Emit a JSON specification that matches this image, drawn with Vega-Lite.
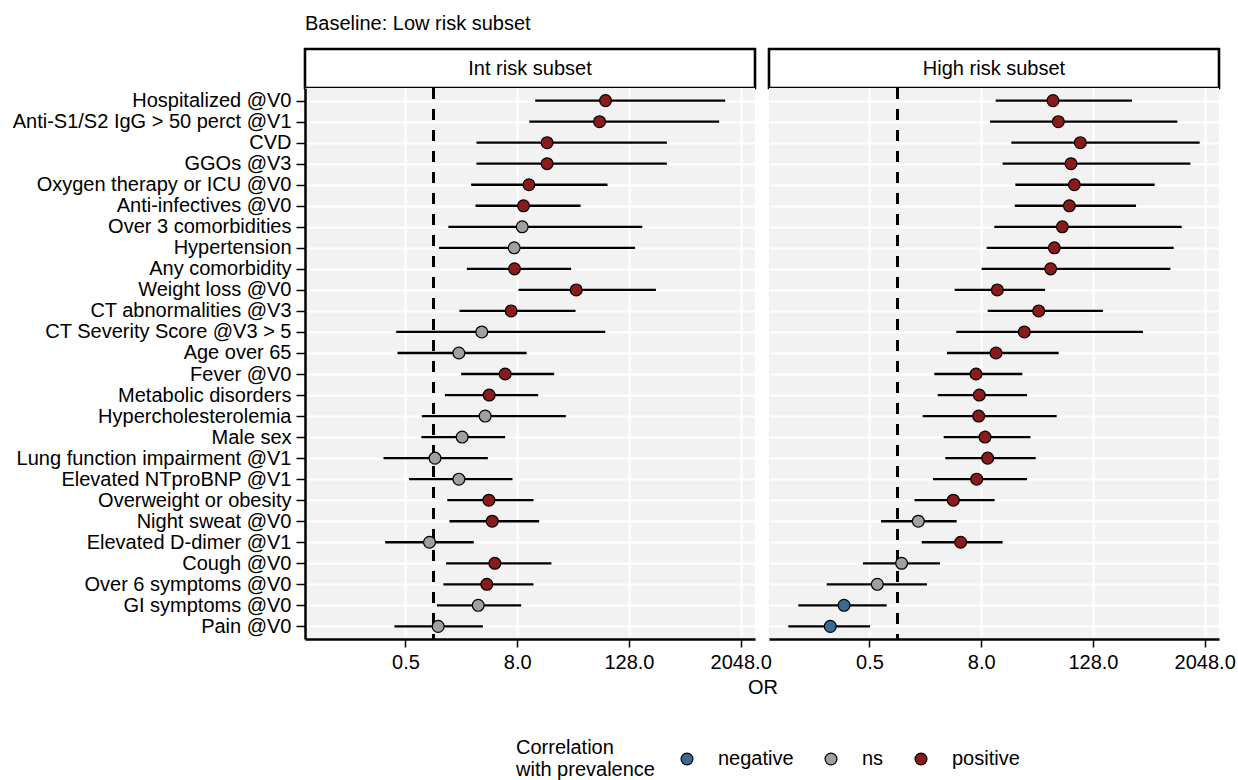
{
  "$schema": "https://vega.github.io/schema/vega-lite/v6.json",
  "background": "white",
  "padding": {"left": 12, "top": 12, "right": 0, "bottom": 0},
  "config": {
    "font": "Liberation Sans",
    "view": {"stroke": null},
    "axis": {
      "labelFont": "Liberation Sans", "labelFontSize": 20, "labelColor": "black",
      "titleFont": "Liberation Sans", "titleFontSize": 20, "titleFontWeight": "normal", "titleColor": "black",
      "gridColor": "white", "gridWidth": 2, "gridOpacity": 1,
      "domainColor": "black", "domainWidth": 2.5, "tickColor": "black", "tickWidth": 1.5
    },
    "legend": {"labelFont": "Liberation Sans", "titleFont": "Liberation Sans"},
    "title": {"font": "Liberation Sans"}
  },
  "datasets": {
    "strips": [
      {"panel": "Int", "label": "Int risk subset"},
      {"panel": "High", "label": "High risk subset"}
    ],
    "forest": [
      {"panel": "Int", "label": "Hospitalized @V0", "or": 71.6, "lo": 12.5, "hi": 1394, "corr": "positive"},
      {"panel": "Int", "label": "Anti-S1/S2 IgG > 50 perct @V1", "or": 61.7, "lo": 10.8, "hi": 1201, "corr": "positive"},
      {"panel": "Int", "label": "CVD", "or": 16.8, "lo": 2.91, "hi": 328, "corr": "positive"},
      {"panel": "Int", "label": "GGOs @V3", "or": 16.8, "lo": 2.91, "hi": 328, "corr": "positive"},
      {"panel": "Int", "label": "Oxygen therapy or ICU @V0", "or": 10.7, "lo": 2.55, "hi": 75.2, "corr": "positive"},
      {"panel": "Int", "label": "Anti-infectives @V0", "or": 9.35, "lo": 2.84, "hi": 38.5, "corr": "positive"},
      {"panel": "Int", "label": "Over 3 comorbidities", "or": 9.05, "lo": 1.45, "hi": 178, "corr": "ns"},
      {"panel": "Int", "label": "Hypertension", "or": 7.42, "lo": 1.15, "hi": 149, "corr": "ns"},
      {"panel": "Int", "label": "Any comorbidity", "or": 7.48, "lo": 2.29, "hi": 30.5, "corr": "positive"},
      {"panel": "Int", "label": "Weight loss @V0", "or": 34.6, "lo": 8.26, "hi": 250, "corr": "positive"},
      {"panel": "Int", "label": "CT abnormalities @V3", "or": 6.88, "lo": 1.91, "hi": 34.0, "corr": "positive"},
      {"panel": "Int", "label": "CT Severity Score @V3 > 5", "or": 3.32, "lo": 0.397, "hi": 71.0, "corr": "ns"},
      {"panel": "Int", "label": "Age over 65", "or": 1.88, "lo": 0.41, "hi": 10.1, "corr": "ns"},
      {"panel": "Int", "label": "Fever @V0", "or": 5.93, "lo": 1.99, "hi": 20.0, "corr": "positive"},
      {"panel": "Int", "label": "Metabolic disorders", "or": 3.99, "lo": 1.33, "hi": 13.45, "corr": "positive"},
      {"panel": "Int", "label": "Hypercholesterolemia", "or": 3.61, "lo": 0.75, "hi": 26.7, "corr": "ns"},
      {"panel": "Int", "label": "Male sex", "or": 2.04, "lo": 0.74, "hi": 5.93, "corr": "ns"},
      {"panel": "Int", "label": "Lung function impairment @V1", "or": 1.04, "lo": 0.29, "hi": 3.86, "corr": "ns"},
      {"panel": "Int", "label": "Elevated NTproBNP @V1", "or": 1.88, "lo": 0.547, "hi": 7.12, "corr": "ns"},
      {"panel": "Int", "label": "Overweight or obesity", "or": 3.96, "lo": 1.41, "hi": 11.98, "corr": "positive"},
      {"panel": "Int", "label": "Night sweat @V0", "or": 4.3, "lo": 1.49, "hi": 13.8, "corr": "positive"},
      {"panel": "Int", "label": "Elevated D-dimer @V1", "or": 0.907, "lo": 0.302, "hi": 2.72, "corr": "ns"},
      {"panel": "Int", "label": "Cough @V0", "or": 4.59, "lo": 1.37, "hi": 18.7, "corr": "positive"},
      {"panel": "Int", "label": "Over 6 symptoms @V0", "or": 3.76, "lo": 1.28, "hi": 11.98, "corr": "positive"},
      {"panel": "Int", "label": "GI symptoms @V0", "or": 3.04, "lo": 1.09, "hi": 8.82, "corr": "ns"},
      {"panel": "Int", "label": "Pain @V0", "or": 1.125, "lo": 0.38, "hi": 3.41, "corr": "ns"},
      {"panel": "High", "label": "Hospitalized @V0", "or": 47.5, "lo": 11.45, "hi": 337, "corr": "positive"},
      {"panel": "High", "label": "Anti-S1/S2 IgG > 50 perct @V1", "or": 54.2, "lo": 9.95, "hi": 1039, "corr": "positive"},
      {"panel": "High", "label": "CVD", "or": 93.6, "lo": 16.9, "hi": 1809, "corr": "positive"},
      {"panel": "High", "label": "GGOs @V3", "or": 74.2, "lo": 13.6, "hi": 1435, "corr": "positive"},
      {"panel": "High", "label": "Oxygen therapy or ICU @V0", "or": 80.7, "lo": 18.65, "hi": 592, "corr": "positive"},
      {"panel": "High", "label": "Anti-infectives @V0", "or": 71.3, "lo": 18.4, "hi": 373, "corr": "positive"},
      {"panel": "High", "label": "Over 3 comorbidities", "or": 59.9, "lo": 11.07, "hi": 1158, "corr": "positive"},
      {"panel": "High", "label": "Hypertension", "or": 49.1, "lo": 9.16, "hi": 949, "corr": "positive"},
      {"panel": "High", "label": "Any comorbidity", "or": 44.8, "lo": 8.09, "hi": 874, "corr": "positive"},
      {"panel": "High", "label": "Weight loss @V0", "or": 11.93, "lo": 4.14, "hi": 39.0, "corr": "positive"},
      {"panel": "High", "label": "CT abnormalities @V3", "or": 33.3, "lo": 9.39, "hi": 164, "corr": "positive"},
      {"panel": "High", "label": "CT Severity Score @V3 > 5", "or": 23.3, "lo": 4.31, "hi": 443, "corr": "positive"},
      {"panel": "High", "label": "Age over 65", "or": 11.55, "lo": 3.42, "hi": 54.7, "corr": "positive"},
      {"panel": "High", "label": "Fever @V0", "or": 7.03, "lo": 2.5, "hi": 22.2, "corr": "positive"},
      {"panel": "High", "label": "Metabolic disorders", "or": 7.63, "lo": 2.72, "hi": 24.9, "corr": "positive"},
      {"panel": "High", "label": "Hypercholesterolemia", "or": 7.51, "lo": 1.87, "hi": 52.0, "corr": "positive"},
      {"panel": "High", "label": "Male sex", "or": 8.79, "lo": 3.15, "hi": 27.1, "corr": "positive"},
      {"panel": "High", "label": "Lung function impairment @V1", "or": 9.39, "lo": 3.28, "hi": 30.9, "corr": "positive"},
      {"panel": "High", "label": "Elevated NTproBNP @V1", "or": 7.15, "lo": 2.42, "hi": 24.9, "corr": "positive"},
      {"panel": "High", "label": "Overweight or obesity", "or": 4.0, "lo": 1.53, "hi": 11.17, "corr": "positive"},
      {"panel": "High", "label": "Night sweat @V0", "or": 1.68, "lo": 0.665, "hi": 4.35, "corr": "ns"},
      {"panel": "High", "label": "Elevated D-dimer @V1", "or": 4.8, "lo": 1.83, "hi": 13.6, "corr": "positive"},
      {"panel": "High", "label": "Cough @V0", "or": 1.11, "lo": 0.425, "hi": 2.88, "corr": "ns"},
      {"panel": "High", "label": "Over 6 symptoms @V0", "or": 0.607, "lo": 0.173, "hi": 2.08, "corr": "ns"},
      {"panel": "High", "label": "GI symptoms @V0", "or": 0.266, "lo": 0.0855, "hi": 0.766, "corr": "negative"},
      {"panel": "High", "label": "Pain @V0", "or": 0.189, "lo": 0.0667, "hi": 0.507, "corr": "negative"}
    ]
  },
  "columns": 2,
  "bounds": "flush",
  "spacing": {"row": 0, "column": 14},
  "resolve": {
    "scale": {"x": "independent", "y": "independent", "fill": "independent"},
    "legend": {"fill": "independent"}
  },
  "concat": [
    {
      "data": {"name": "strips"},
      "transform": [{"filter": "datum.panel == 'Int'"}],
      "width": 450, "height": 39,
      "title": {"text": "Baseline: Low risk subset", "anchor": "start", "frame": "group", "fontSize": 20, "fontWeight": "normal", "color": "black", "baseline": "alphabetic", "offset": -1},
      "view": {"fill": "white", "stroke": "black", "strokeWidth": 2.6},
      "mark": {"type": "text", "fontSize": 20, "color": "black", "font": "Liberation Sans"},
      "encoding": {"text": {"field": "label", "type": "nominal"}}
    },
    {
      "data": {"name": "strips"},
      "transform": [{"filter": "datum.panel == 'High'"}],
      "width": 450, "height": 39,
      "view": {"fill": "white", "stroke": "black", "strokeWidth": 2.6},
      "mark": {"type": "text", "fontSize": 20, "color": "black", "font": "Liberation Sans"},
      "encoding": {"text": {"field": "label", "type": "nominal"}}
    },
    {
      "data": {"name": "forest"},
      "transform": [{"filter": "datum.panel == 'Int'"}],
      "width": 450, "height": 551,
      "view": {"fill": "#F2F2F2", "stroke": null},
      "layer": [
        {
          "mark": {"type": "rule", "color": "black", "strokeWidth": 2.5, "strokeDash": [10.5, 10.5]},
          "encoding": {
            "x": {"datum": 1, "type": "quantitative", "scale": {"type": "log", "base": 2, "domain": [0.0413, 2922], "nice": false, "zero": false}}
          }
        },
        {
          "mark": {"type": "rule", "color": "black", "strokeWidth": 2.3},
          "encoding": {
            "y": {"field": "label", "type": "nominal", "sort": null, "scale": {"type": "point", "padding": 0.6},
              "axis": {"title": null, "tickSize": 9, "labelPadding": 5, "labelLimit": 500, "grid": true, "domain": true}},
            "x": {"field": "lo", "type": "quantitative", "scale": {"type": "log", "base": 2, "domain": [0.0413, 2922], "nice": false, "zero": false},
              "axis": {"values": [0.5, 8, 128, 2048], "format": ".1f", "title": "OR", "titleX": 457.5, "titleY": 48, "titleBaseline": "middle", "titleAlign": "center", "tickSize": 8, "labelPadding": 5.5, "labelFlush": false, "grid": true}},
            "x2": {"field": "hi"}
          }
        },
        {
          "mark": {"type": "circle", "size": 140, "opacity": 1, "stroke": "black", "strokeWidth": 1.2},
          "encoding": {
            "y": {"field": "label", "type": "nominal", "sort": null},
            "x": {"field": "or", "type": "quantitative"},
            "fill": {"field": "corr", "type": "nominal",
              "scale": {"domain": ["negative", "ns", "positive"], "range": ["#3A6A98", "#A0A0A0", "#8B1A1A"]},
              "legend": {"title": ["Correlation", "with prevalence"], "orient": "none", "legendX": 211, "legendY": 661, "direction": "horizontal",
                "titleOrient": "left", "titleFontSize": 20, "titleFontWeight": "normal", "titleColor": "black", "titleLineHeight": 22, "titlePadding": 22,
                "labelFontSize": 20, "labelColor": "black", "symbolType": "circle", "symbolSize": 140, "symbolStrokeColor": "black", "symbolStrokeWidth": 1.2,
                "labelOffset": 21, "columnPadding": 27}}
          }
        }
      ]
    },
    {
      "data": {"name": "forest"},
      "transform": [{"filter": "datum.panel == 'High'"}],
      "width": 450, "height": 551,
      "view": {"fill": "#F2F2F2", "stroke": null},
      "layer": [
        {
          "mark": {"type": "rule", "color": "black", "strokeWidth": 2.5, "strokeDash": [10.5, 10.5]},
          "encoding": {
            "x": {"datum": 1, "type": "quantitative", "scale": {"type": "log", "base": 2, "domain": [0.0413, 2922], "nice": false, "zero": false}}
          }
        },
        {
          "mark": {"type": "rule", "color": "black", "strokeWidth": 2.3},
          "encoding": {
            "y": {"field": "label", "type": "nominal", "sort": null, "scale": {"type": "point", "padding": 0.6},
              "axis": {"title": null, "labels": false, "ticks": false, "domain": false, "grid": true}},
            "x": {"field": "lo", "type": "quantitative", "scale": {"type": "log", "base": 2, "domain": [0.0413, 2922], "nice": false, "zero": false},
              "axis": {"values": [0.5, 8, 128, 2048], "format": ".1f", "title": null, "tickSize": 8, "labelPadding": 5.5, "labelFlush": false, "grid": true}},
            "x2": {"field": "hi"}
          }
        },
        {
          "mark": {"type": "circle", "size": 140, "opacity": 1, "stroke": "black", "strokeWidth": 1.2},
          "encoding": {
            "y": {"field": "label", "type": "nominal", "sort": null},
            "x": {"field": "or", "type": "quantitative"},
            "fill": {"field": "corr", "type": "nominal",
              "scale": {"domain": ["negative", "ns", "positive"], "range": ["#3A6A98", "#A0A0A0", "#8B1A1A"]},
              "legend": null}
          }
        }
      ]
    }
  ]
}
